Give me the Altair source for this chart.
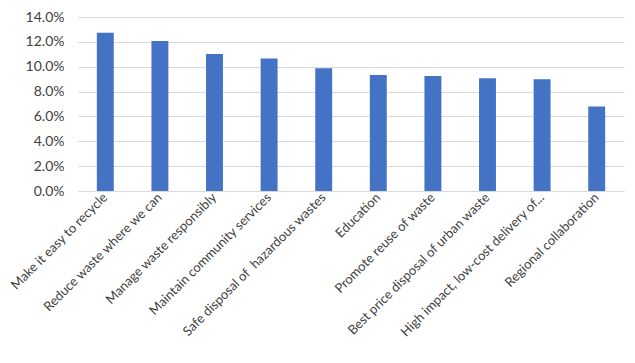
import altair as alt
import pandas as pd

categories = [
    "Make it easy to recycle",
    "Reduce waste where we can",
    "Manage waste responsibly",
    "Maintain community services",
    "Safe disposal of \u00a0hazardous wastes",
    "Education",
    "Promote reuse of waste",
    "Best price disposal of urban waste",
    "High impact, low-cost delivery of...",
    "Regional collaboration",
]
values = [0.1274, 0.1207, 0.1102, 0.1066, 0.0988, 0.0933, 0.0925, 0.0907, 0.0900, 0.0680]

df = pd.DataFrame({"cat": categories, "val": values})

FONT = "Lato"

chart = alt.Chart(df).mark_bar(color="#4472C4").encode(
    x=alt.X("cat:N", sort=categories, title=None,
            scale=alt.Scale(paddingInner=0.69, paddingOuter=0.345),
            axis=alt.Axis(labelAngle=-45, labelAlign="right", labelBaseline="middle",
                          labelPadding=4, ticks=False, domain=True, domainColor="#d9d9d9",
                          labelFont=FONT, labelFontSize=13, labelColor="#404040",
                          labelLimit=400)),
    y=alt.Y("val:Q", title=None,
            scale=alt.Scale(domain=[0, 0.14]),
            axis=alt.Axis(format=".1%", values=[0, 0.02, 0.04, 0.06, 0.08, 0.10, 0.12, 0.14],
                          domain=False, ticks=False, labelPadding=14,
                          gridColor="#d9d9d9", labelFont=FONT, labelFontSize=14,
                          labelColor="#404040")),
).properties(
    width=546, height=174,
    autosize=alt.AutoSizeParams(type="none"),
    padding={"left": 70, "top": 9, "right": 3, "bottom": 165},
).configure_view(stroke=None)

chart.save("out.html", embed_options={"renderer": "svg", "actions": False})
